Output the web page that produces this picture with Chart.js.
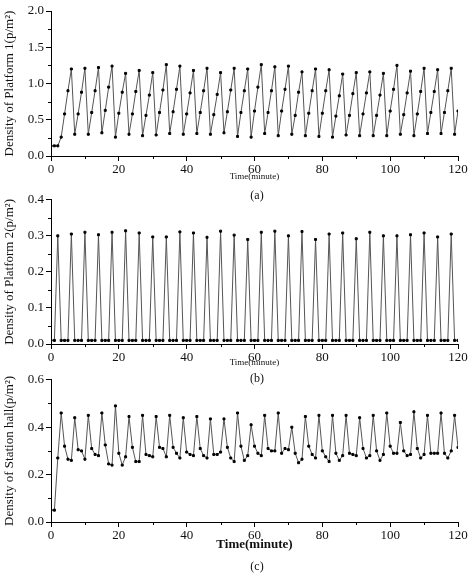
<!DOCTYPE html>
<html><head><meta charset="utf-8">
<script src="https://cdn.jsdelivr.net/npm/chart.js@4"></script>
<style>
body{margin:0;background:#fff;width:474px;height:579px;position:relative;overflow:hidden;font-family:"Liberation Serif",serif}
.c{position:absolute;left:0;width:474px}
.lab{position:absolute;width:474px;left:0;text-align:center;font-size:12px;color:#111;padding-left:40px;box-sizing:border-box}
</style></head><body>
<div class="c" style="top:0;height:190px"><canvas id="c1"></canvas></div>
<div class="c" style="top:190px;height:180px"><canvas id="c2"></canvas></div>
<div class="c" style="top:370px;height:209px"><canvas id="c3"></canvas></div>
<div class="lab" style="top:188px">(a)</div>
<div class="lab" style="top:371px">(b)</div>
<div class="lab" style="top:559px">(c)</div>
<script>
const minutes = Array.from({length:121},(_,i)=>i);
const xTicks = [0,20,40,60,80,100,120];
const platform1 = [0.14,0.14,0.14,0.26,0.58,0.90,1.20,
0.30,0.58,0.88,1.21, 0.30,0.60,0.90,1.22, 0.32,0.63,0.95,1.24, 0.26,0.59,0.88,1.14,
0.30,0.58,0.89,1.18, 0.28,0.56,0.84,1.15, 0.29,0.60,0.91,1.26, 0.31,0.61,0.92,1.24,
0.30,0.58,0.87,1.18, 0.31,0.60,0.90,1.21, 0.30,0.57,0.85,1.15, 0.32,0.61,0.91,1.21,
0.27,0.60,0.90,1.20, 0.26,0.62,0.95,1.26, 0.31,0.60,0.90,1.23, 0.28,0.62,0.92,1.24,
0.30,0.56,0.88,1.16, 0.28,0.59,0.90,1.20, 0.27,0.59,0.90,1.19, 0.26,0.55,0.83,1.13,
0.29,0.56,0.86,1.15, 0.28,0.58,0.87,1.16, 0.28,0.56,0.84,1.14, 0.28,0.62,0.92,1.25,
0.30,0.57,0.87,1.17, 0.28,0.58,0.89,1.21, 0.31,0.60,0.89,1.19, 0.31,0.60,0.90,1.21,
0.30,0.62];
const platform2 = [0.01,0.01,0.300,0.01,0.01,0.01,0.305,0.01,0.01,0.01,0.310,0.01,0.01,0.01,0.303,0.01,
0.01,0.01,0.310,0.01,0.01,0.01,0.314,0.01,0.01,0.01,0.308,0.01,0.01,0.01,0.297,0.01,
0.01,0.01,0.297,0.01,0.01,0.01,0.311,0.01,0.01,0.01,0.308,0.01,0.01,0.01,0.296,0.01,
0.01,0.01,0.313,0.01,0.01,0.01,0.302,0.01,0.01,0.01,0.290,0.01,0.01,0.01,0.310,0.01,
0.01,0.01,0.313,0.01,0.01,0.01,0.300,0.01,0.01,0.01,0.312,0.01,0.01,0.01,0.290,0.01,
0.01,0.01,0.305,0.01,0.01,0.01,0.308,0.01,0.01,0.01,0.292,0.01,0.01,0.01,0.310,0.01,
0.01,0.01,0.300,0.01,0.01,0.01,0.300,0.01,0.01,0.01,0.303,0.01,0.01,0.01,0.308,0.01,
0.01,0.01,0.297,0.01,0.01,0.01,0.305,0.01,0.01];
const stationHall = [0.05,0.05,0.27,0.46,0.32,0.265,0.26,0.44,0.305,0.30,0.265,0.45,0.31,0.285,0.28,0.46,
0.325,0.245,0.24,0.49,0.29,0.24,0.275,0.445,0.315,0.255,0.255,0.45,0.285,0.28,0.275,0.445,
0.315,0.31,0.275,0.45,0.315,0.29,0.27,0.44,0.295,0.285,0.28,0.445,0.31,0.28,0.27,0.435,
0.285,0.285,0.295,0.435,0.315,0.27,0.255,0.46,0.32,0.26,0.28,0.41,0.32,0.29,0.28,0.45,
0.31,0.30,0.30,0.46,0.29,0.31,0.305,0.40,0.29,0.25,0.265,0.445,0.32,0.285,0.27,0.45,
0.30,0.275,0.255,0.45,0.29,0.26,0.28,0.45,0.29,0.285,0.28,0.44,0.31,0.27,0.28,0.45,
0.30,0.26,0.285,0.46,0.32,0.29,0.29,0.42,0.30,0.28,0.285,0.465,0.31,0.27,0.285,0.45,
0.29,0.29,0.29,0.46,0.29,0.27,0.30,0.45,0.315];

const minorTicks = {id:'minor',afterDraw(ch){const c=ch.ctx;const x=ch.scales.x,y=ch.scales.y;c.save();c.strokeStyle='#000';c.lineWidth=1;
 for(let v=10;v<120;v+=20){const p=Math.round(x.getPixelForValue(v))+0.5;c.beginPath();c.moveTo(p,y.bottom);c.lineTo(p,y.bottom+3);c.stroke();}
 const t=y.ticks;for(let i=0;i<t.length-1;i++){const v=(t[i].value+t[i+1].value)/2;const p=Math.round(y.getPixelForValue(v))+0.5;c.beginPath();c.moveTo(x.left-3,p);c.lineTo(x.left,p);c.stroke();}
 c.restore();}};

function make(id,data,ymax,step,ylabel,xH,padB,padT,titleFont){
 new Chart(document.getElementById(id),{type:'line',
  data:{labels:minutes,datasets:[{data:data,borderColor:'#555',borderWidth:1,pointRadius:1.4,pointStyle:'rect',pointBackgroundColor:'#000',pointBorderColor:'#000',tension:0}]},
  options:{responsive:true,maintainAspectRatio:false,animation:false,
   layout:{padding:{top:padT,right:16,bottom:padB,left:2}},
   plugins:{legend:{display:false},tooltip:{enabled:false}},
   scales:{
    x:{type:'linear',min:0,max:120,afterFit(s){s.height=xH;},
     afterBuildTicks(s){s.ticks=xTicks.map(v=>({value:v}));},
     border:{color:'#000',width:1},
     grid:{drawOnChartArea:false,color:'#000',tickLength:5},
     ticks:{color:'#111',font:{family:'Liberation Serif',size:13},padding:1,maxRotation:0},
     title:{display:true,text:'Time(minute)',color:'#111',font:titleFont,padding:{top:0,bottom:0}}},
    y:{min:0,max:ymax,afterFit(s){s.width=49;},
     border:{color:'#000',width:1},
     grid:{drawOnChartArea:false,color:'#000',tickLength:5},
     ticks:{stepSize:step,color:'#111',font:{family:'Liberation Serif',size:13},padding:2,callback:v=>v.toFixed(1)},
     title:{display:true,text:ylabel,color:'#111',font:{family:'Liberation Serif',size:13},padding:{top:0,bottom:1}}}}},
  plugins:[minorTicks]});
}
make('c1',platform1,2.0,0.5,'Density of Platform 1(p/m²)',26,8,11,{family:'Liberation Serif',size:9});
make('c2',platform2,0.4,0.1,'Density of Platform 2(p/m²)',24,2,8,{family:'Liberation Serif',size:9});
make('c3',stationHall,0.6,0.2,'Density of Station hall(p/m²)',30,27,7,{family:'Liberation Serif',size:13,weight:'bold'});
</script></body></html>
